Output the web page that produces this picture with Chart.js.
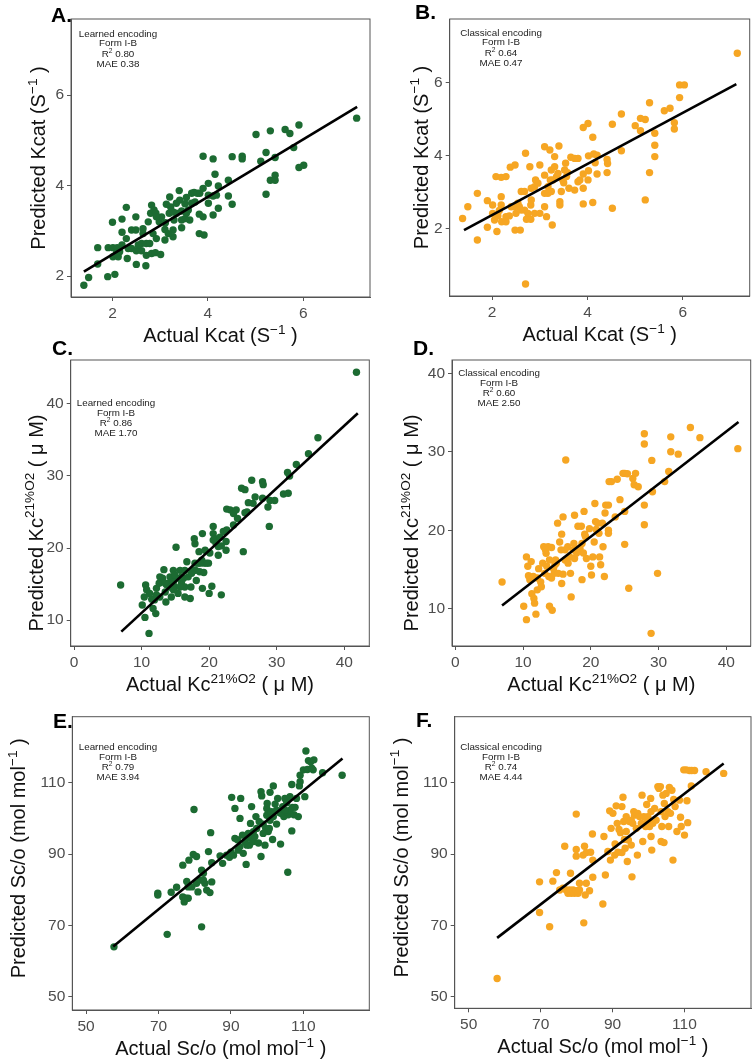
<!DOCTYPE html>
<html>
<head>
<meta charset="utf-8">
<script src="https://cdn.jsdelivr.net/npm/chart.js@4.4.0/dist/chart.umd.min.js"></script>
<style>
  body { margin: 0; background: #fff; width: 755px; height: 1063px; position: relative; overflow: hidden; }
  canvas { position: absolute; }
</style>
</head>
<body>
<canvas id="cA" width="378" height="350" style="left:0;top:0"></canvas>
<canvas id="cB" width="377" height="350" style="left:378px;top:0"></canvas>
<canvas id="cC" width="378" height="370" style="left:0;top:330px"></canvas>
<canvas id="cD" width="377" height="370" style="left:378px;top:330px"></canvas>
<canvas id="cE" width="378" height="383" style="left:0;top:680px"></canvas>
<canvas id="cF" width="377" height="383" style="left:378px;top:680px"></canvas>
<script>
const GREEN = '#1c6b32';
const ORANGE = '#f6a623';
const FONT = '"Liberation Sans", Arial, sans-serif';

// A: Kcat, learned encoding
const actualA = [1.40,1.50,1.69,1.69,1.90,2.05,2.00,1.91,2.01,2.10,2.01,2.12,2.20,2.20,2.20,2.29,2.29,2.31,2.40,2.49,2.49,2.40,2.50,2.50,2.61,2.61,2.64,2.70,2.71,2.71,2.75,2.80,2.82,2.87,2.91,2.82,2.90,3.01,2.98,3.10,3.10,3.11,3.19,3.20,3.22,3.27,3.29,3.34,3.40,3.41,3.45,3.45,3.52,3.55,3.59,3.62,3.66,3.71,3.78,3.83,3.82,3.82,3.92,3.90,3.90,4.01,4.01,4.11,4.11,4.11,4.15,4.18,4.22,4.22,4.43,4.43,4.51,4.51,4.72,4.72,3.90,5.01,5.11,5.22,5.22,5.31,5.31,5.41,5.41,5.41,5.62,5.72,5.80,5.91,5.91,6.01,7.12,3.13,3.27,3.34,3.66,3.73,3.03,2.64,2.85,2.92,3.27,3.17,2.15,2.08,2.33,3.52,2.92,4.01,3.55,3.45,2.54,2.78];
const predA = [1.80,1.97,2.63,2.27,1.99,2.04,3.19,2.63,2.63,2.63,2.43,2.43,2.69,3.26,2.97,3.52,2.83,2.39,3.02,3.02,3.31,2.61,2.56,2.26,2.56,2.72,2.94,2.23,2.46,2.72,3.20,3.39,3.57,3.46,3.39,2.50,2.52,2.48,3.20,2.80,3.03,3.18,3.39,3.75,3.53,3.02,3.24,3.39,3.89,3.68,3.44,3.07,3.60,3.74,3.46,3.24,3.83,3.85,3.83,3.83,3.37,2.94,2.91,3.31,3.94,4.05,3.61,3.35,4.59,3.77,4.25,3.79,3.50,3.99,4.12,3.77,4.64,3.59,4.65,4.59,4.65,5.13,4.54,4.73,3.81,4.12,5.21,4.23,4.12,4.62,5.24,5.15,4.84,5.34,4.40,4.45,5.49,3.59,3.42,3.61,3.61,3.64,3.31,3.05,2.94,2.83,2.87,2.94,2.54,2.50,2.61,3.27,3.31,3.79,3.39,3.24,2.69,2.72];
const fitXA = [1.40, 7.13];
const fitYA = [2.10, 5.74];

// B: Kcat, classical encoding
const actualB = [1.38,1.49,1.69,1.69,1.90,1.90,2.01,2.01,2.08,2.10,2.12,2.19,2.19,2.19,2.20,2.29,2.29,2.29,2.38,2.48,2.40,2.47,2.50,2.48,2.59,2.57,2.61,2.68,2.70,2.70,2.72,2.81,2.81,2.79,2.82,2.89,2.91,2.89,3.00,3.00,3.10,3.10,3.10,3.10,3.14,3.21,3.22,3.24,3.24,3.26,3.31,3.31,3.35,3.38,3.40,3.42,3.42,3.45,3.50,3.54,3.58,3.61,3.65,3.73,3.80,3.80,3.84,3.91,3.91,3.91,3.91,4.01,4.02,4.02,4.11,4.11,4.13,4.16,4.20,4.20,4.41,4.41,4.42,4.52,4.52,4.71,4.71,5.00,5.11,5.11,5.21,5.21,5.30,5.30,5.41,5.41,5.41,5.61,5.73,5.82,5.82,5.93,5.93,6.03,7.14,2.36,2.68,2.61,2.54,2.82,2.96,3.17,3.27,3.48,3.56,3.73,4.01,2.15,2.05,2.75,3.52,3.17];
const predB = [2.27,2.59,2.96,1.68,2.76,2.03,2.64,2.41,3.42,1.91,2.34,3.40,2.87,2.64,2.18,3.42,2.32,2.18,3.68,3.74,2.59,2.59,2.41,1.95,1.95,2.59,3.01,3.01,4.06,0.47,2.25,2.25,2.64,3.69,3.10,3.14,3.33,2.41,3.74,2.41,4.24,3.46,2.96,2.59,2.32,4.15,3.33,3.60,3.01,2.09,3.97,3.69,3.42,3.51,4.26,2.73,2.64,3.01,3.25,3.79,3.53,3.10,3.95,3.92,3.92,3.28,3.33,3.49,3.10,2.67,4.77,4.88,3.99,3.58,4.50,2.71,4.04,3.80,3.49,4.01,3.89,3.53,3.78,4.86,2.55,4.13,5.14,4.82,5.02,4.68,4.99,2.78,5.45,3.53,4.61,4.28,3.97,5.23,5.30,4.90,4.73,5.59,5.94,5.94,6.81,2.34,2.50,2.50,2.69,2.78,3.24,3.14,3.33,3.33,3.42,3.05,3.33,2.49,2.23,2.41,3.60,2.96];
const fitXB = [1.41, 7.12];
const fitYB = [1.95, 5.96];

// C: Kc, learned encoding
const actualC = [6.9,11.1,10.5,10.6,10.4,10.1,10.75,11.5,11.7,12.1,12.2,12.6,12.7,13.1,13.3,13.5,13.6,14.0,14.2,14.4,14.7,14.9,15.1,15.2,15.4,15.7,15.9,16.2,16.4,16.4,16.7,16.9,17.2,17.3,17.6,17.8,17.9,18.0,18.1,18.4,18.5,18.6,18.9,19.0,19.0,19.2,19.6,19.9,20.0,20.4,20.6,20.6,20.9,21.0,21.35,21.35,21.6,21.8,22.1,22.5,22.5,22.6,22.6,23.1,23.6,24.0,24.2,24.8,25.3,25.05,25.3,25.6,26.3,26.5,26.8,27.9,28.0,27.9,28.7,28.9,29.0,29.7,31.0,31.7,31.6,31.9,32.9,34.7,36.1,41.8,11.2,11.9,13.7,14.2,14.7,15.7,15.9,17.4,17.9,18.6,19.2,19.4,20.6,20.1,21.8,12.7,12.2,16.4,14.7,13.5,14.9,23.6,25.8];
const predC = [14.86,8.15,10.37,14.86,13.2,12.1,14.2,12.9,11.6,10.9,14.4,15.1,13.2,15.8,17.0,13.9,12.5,15.1,16.0,13.2,16.9,14.6,20.1,15.8,13.7,16.9,15.1,15.8,16.9,14.6,18.1,16.0,13.0,14.6,16.9,21.3,20.6,16.9,15.5,17.9,19.5,16.7,18.3,22.0,14.4,17.9,17.9,17.9,13.7,14.7,23.0,22.0,21.3,20.7,20.2,19.0,21.5,13.5,22.3,19.7,20.9,22.5,25.4,25.3,24.8,25.3,24.1,28.3,28.1,19.5,24.9,25.0,29.4,26.2,27.1,29.2,28.8,26.9,25.7,23.0,26.6,26.6,27.5,27.6,30.5,30.0,31.6,33.1,35.3,44.4,13.7,12.8,14.9,14.6,14.2,14.6,16.0,16.5,17.9,17.9,16.6,19.7,21.1,19.3,20.3,16.0,13.5,13.2,15.3,15.1,16.3,23.2,26.3];
const fitXC = [7.0, 42.0];
const fitYC = [8.4, 38.7];

// D: Kc, classical encoding
const actualD = [6.9,10.1,10.5,10.5,10.7,11.0,11.2,11.3,11.6,11.7,11.9,12.1,12.1,12.3,12.6,12.7,12.9,13.05,13.2,13.4,13.5,13.7,13.8,13.9,13.9,14.2,14.2,14.3,14.5,14.6,14.8,15.1,15.2,15.4,15.6,15.7,15.7,15.9,15.9,16.2,16.3,16.6,16.65,16.9,17.0,17.1,17.4,17.6,17.6,17.9,18.1,18.4,18.6,18.7,18.7,18.9,19.0,19.1,19.2,19.8,20.0,20.1,20.3,20.5,20.6,20.7,20.8,21.0,21.2,21.3,21.45,21.7,21.8,22.0,22.1,22.2,22.6,22.6,22.6,22.7,23.05,23.6,23.9,24.3,24.75,25.0,25.0,25.0,25.4,25.6,26.2,26.4,26.6,27.0,27.9,27.9,27.9,27.9,29.0,28.9,29.1,29.85,30.9,31.5,31.8,31.8,32.9,34.7,36.1,41.7,10.8,11.5,14.9,17.5,16.2,13.3,17.9,14.7,19.35];
const predD = [13.4,10.3,8.6,16.6,15.4,13.7,16.0,11.9,11.3,10.7,9.3,12.4,13.9,15.1,13.4,12.8,15.8,17.9,14.5,17.05,15.4,17.9,14.1,16.2,10.3,17.8,13.9,9.8,15.1,14.5,16.2,20.9,14.5,18.5,17.5,19.5,13.2,21.7,14.4,16.2,28.95,17.9,15.8,16.6,14.5,11.5,17.5,21.9,16.4,17.5,20.5,17.7,20.5,18.3,13.7,17.1,22.4,19.5,19.2,20.2,15.4,14.3,16.6,18.5,23.4,21.1,20.1,20.9,19.6,16.6,15.6,20.9,17.9,14.1,22.2,23.2,23.2,20.0,19.6,26.2,26.2,21.7,26.5,23.9,27.25,27.25,22.4,18.2,27.2,12.6,26.6,25.8,27.25,25.55,32.3,31.0,23.2,20.7,28.9,6.85,24.9,14.5,26.2,27.5,31.9,30.0,29.7,33.1,31.8,30.4,14.2,14.1,15.8,18.3,17.5,17.5,17.1,15.6,16.4];
const fitXD = [6.9, 41.8];
const fitYD = [10.4, 33.8];

// E: Sc/o, learned encoding
const actualE = [57.7,72.4,81.9,69.8,69.8,73.5,75.0,76.7,76.7,77.1,77.6,78.2,77.8,78.4,78.2,79.2,79.6,79.8,80.5,80.5,80.9,81.5,81.9,82.4,82.8,83.3,83.8,84.2,84.4,84.7,84.7,87.0,87.7,88.8,89.6,90.0,90.2,90.7,91.1,91.1,91.8,92.0,92.5,92.7,93.2,93.4,93.9,94.2,94.8,95.1,95.3,95.4,95.7,96.2,96.6,96.9,97.1,97.6,97.8,98.3,98.3,98.5,98.9,99.4,99.6,99.9,99.9,100.0,100.3,100.6,100.8,101.0,101.2,101.5,101.7,102.2,102.6,102.9,103.5,103.7,104.3,104.6,104.9,105.4,105.7,105.8,106.3,106.8,106.8,107.0,107.4,107.7,108.1,108.6,108.9,109.1,110.0,110.4,110.7,111.1,111.4,112.0,112.7,112.9,112.3,115.3,120.7,98.9,96.2,100.8,101.7,102.6,104.0,105.4,106.3,94.4,92.5,104.9,82.4,109.1];
const predE = [64.0,67.5,69.6,79.0,78.5,79.3,80.7,86.9,78.0,76.6,77.6,77.6,82.3,88.3,80.8,80.8,89.9,102.5,89.3,81.8,79.4,82.7,85.5,84.6,81.8,79.9,90.7,79.2,96.0,87.6,82.2,89.5,87.4,89.7,89.1,90.5,105.9,89.7,102.8,94.4,94.0,91.1,100.0,105.6,95.3,90.2,93.5,87.1,95.8,92.5,94.4,98.6,103.3,93.5,94.9,100.5,97.2,93.1,99.1,89.3,107.5,106.3,98.4,92.5,97.2,100.9,102.8,104.2,96.3,97.2,107.3,101.6,101.9,94.1,109.1,104.0,98.4,105.6,101.6,92.8,103.3,100.5,105.6,104.4,84.9,101.0,106.1,96.5,109.5,103.1,101.0,103.1,105.6,100.5,109.1,112.1,113.6,106.1,118.9,113.7,116.2,115.9,113.6,116.4,114.1,112.8,112.1,95.8,96.3,99.5,100.5,102.3,101.4,101.9,102.3,92.5,92.1,102.3,82.7,110.3];
const fitXE = [57.5, 120.8];
const fitYE = [64.1, 116.8];

// F: Sc/o, classical encoding
const actualF = [57.9,69.7,69.7,72.5,73.4,74.4,76.7,75.3,76.2,77.1,77.6,78.1,78.3,78.5,79.0,79.4,79.9,79.9,79.9,79.9,80.4,80.8,80.8,81.8,82.0,82.2,82.4,82.7,82.7,83.6,83.9,84.4,84.5,84.5,87.3,87.6,88.0,88.7,89.2,89.4,90.1,90.6,90.7,91.0,91.3,91.5,91.8,92.2,92.6,92.6,92.9,93.1,93.3,93.5,93.8,94.1,94.4,94.7,95.2,95.4,95.6,95.9,96.1,96.6,96.9,97.0,97.5,98.0,98.2,98.4,98.7,99.2,99.5,99.8,100.3,100.6,100.7,100.9,101.2,101.7,102.1,102.6,102.9,103.3,103.5,103.7,104.0,104.3,104.4,104.6,104.9,105.4,105.6,105.8,106.1,106.5,106.8,107.0,107.4,107.9,108.6,108.9,109.1,109.8,110.0,110.5,111.4,112.0,112.8,110.7,110.9,111.9,116.0,120.9,99.6,103.5,100.7,95.2,89.6,93.8];
const predF = [55.1,73.6,82.2,69.6,82.4,84.8,92.2,79.9,80.4,79.9,78.97,79.9,84.6,79.0,79.9,79.0,79.7,101.2,91.3,89.4,79.0,81.8,79.9,89.7,70.7,92.2,78.5,81.8,90.4,79.7,90.5,95.6,88.3,83.5,76.0,94.9,84.1,90.7,102.1,88.3,101.4,89.7,92.8,103.5,98.6,90.5,96.9,96.0,103.3,90.4,105.9,99.1,94.1,91.6,100.5,87.9,93.9,99.1,92.5,83.6,98.6,101.9,100.9,97.2,89.7,101.4,100.5,98.6,106.5,93.5,100.5,97.7,103.9,100.5,97.7,105.6,94.9,91.1,98.6,102.8,99.5,108.9,108.4,108.9,93.5,97.7,106.5,93.2,104.2,100.5,107.0,101.9,97.7,108.7,101.4,107.9,88.3,105.3,103.3,96.3,105.1,100.3,97.7,113.6,95.3,113.6,113.4,113.4,113.4,104.95,98.8,109.1,113.1,112.6,99.5,101.9,101.9,99.5,97.2,96.3];
const fitXF = [57.9, 120.9];
const fitYF = [66.5, 115.4];

// tick labels
const kcatTicks = [2, 4, 6];
const kcTicksX = [0, 10, 20, 30, 40];
const kcTicksY = [10, 20, 30, 40];
const scoTicks = [50, 70, 90, 110];

// axis titles and notes
const kcatX = [{t: 'Actual Kcat (S'}, {t: '\u22121', sup: true}, {t: ' )'}];
const kcatY = [{t: 'Predicted Kcat (S'}, {t: '\u22121', sup: true}, {t: ' )'}];
const kcX = [{t: 'Actual Kc'}, {t: '21%O2', sup: true}, {t: ' ( \u03bc M)'}];
const kcY = [{t: 'Predicted Kc'}, {t: '21%O2', sup: true}, {t: ' ( \u03bc M)'}];
const scoX = [{t: 'Actual Sc/o (mol mol'}, {t: '\u22121', sup: true}, {t: ' )'}];
const scoY = [{t: 'Predicted Sc/o (mol mol'}, {t: '\u22121', sup: true}, {t: ' )'}];

function note(enc, r2, mae) {
  return [
    [{t: enc + ' encoding'}],
    [{t: 'Form I-B'}],
    [{t: 'R'}, {t: '2', sup: true}, {t: ' ' + r2}],
    [{t: 'MAE ' + mae}]
  ];
}

function drawRich(ctx, parts, x, y, size) {
  let w = 0;
  parts.forEach(p => {
    ctx.font = (p.sup ? size * 0.68 : size) + 'px ' + FONT;
    w += ctx.measureText(p.t).width;
  });
  let cx = x - w / 2;
  parts.forEach(p => {
    ctx.font = (p.sup ? size * 0.68 : size) + 'px ' + FONT;
    ctx.fillText(p.t, cx, p.sup ? y - size * 0.42 : y);
    cx += ctx.measureText(p.t).width;
  });
}

const decor = {
  id: 'decor',
  afterDraw(chart, args, o) {
    const ctx = chart.ctx;
    const a = chart.chartArea;
    ctx.save();
    ctx.strokeStyle = '#555';
    ctx.lineWidth = 1;
    ctx.strokeRect(a.left, a.top, a.right - a.left, a.bottom - a.top);
    ctx.textAlign = 'left';
    ctx.textBaseline = 'alphabetic';
    ctx.fillStyle = '#000';
    ctx.font = 'bold 21px ' + FONT;
    ctx.fillText(o.letter, o.lx, o.ly);
    ctx.fillStyle = '#222';
    o.note.forEach((ln, i) => drawRich(ctx, ln, o.nx, o.ny + i * 9.7 + (i > 1 ? 1 : 0), 9.8));
    ctx.fillStyle = '#111';
    drawRich(ctx, o.xt, (a.left + a.right) / 2, a.bottom + 45, 20);
    ctx.translate(a.left - o.yo, (a.top + a.bottom) / 2 + (o.ys || 0));
    ctx.rotate(-Math.PI / 2);
    drawRich(ctx, o.yt, 0, 0, 20);
    ctx.restore();
  }
};

function axis(range, ticks, fit) {
  return {
    type: 'linear',
    min: range[0],
    max: range[1],
    afterBuildTicks: s => { s.ticks = ticks.map(v => ({value: v})); },
    afterFit: fit,
    grid: {display: true, drawOnChartArea: false, drawTicks: true, tickLength: 4, color: '#555', lineWidth: 1},
    border: {display: true, color: '#555'},
    ticks: {font: {family: FONT, size: 15.5}, color: '#4d4d4d', padding: 3, maxRotation: 0, autoSkip: false}
  };
}

function makePanel(id, cfg) {
  const canvas = document.getElementById(id);
  const b = cfg.box;
  const pts = cfg.xs.map((x, i) => ({x: x, y: cfg.ys[i]}));
  const fit = cfg.fx.map((x, i) => ({x: x, y: cfg.fy[i]}));
  new Chart(canvas, {
    type: 'scatter',
    data: {
      datasets: [
        {type: 'line', data: fit, borderColor: '#000', borderWidth: 2.6, pointRadius: 0, fill: false, order: 0},
        {data: pts, backgroundColor: cfg.color, borderWidth: 0, pointRadius: 3.7, order: 1}
      ]
    },
    options: {
      responsive: false,
      animation: false,
      events: [],
      layout: {padding: {top: b[1], right: canvas.width - b[2], left: 0, bottom: 0}},
      plugins: {legend: {display: false}, tooltip: {enabled: false}, decor: cfg.decor},
      scales: {
        x: axis(cfg.xr, cfg.xt, s => { s.height = canvas.height - b[3]; }),
        y: axis(cfg.yr, cfg.yt, s => { s.width = b[0]; })
      }
    },
    plugins: [decor]
  });
}

makePanel('cA', {
  xs: actualA, ys: predA, fx: fitXA, fy: fitYA, color: GREEN,
  box: [71, 19, 370, 297], xr: [1.13, 7.40], yr: [1.54, 7.68], xt: kcatTicks, yt: kcatTicks,
  decor: {letter: 'A.', lx: 51, ly: 22, nx: 118, ny: 36.5, note: note('Learned', '0.80', '0.38'), xt: kcatX, yt: kcatY, yo: 26}
});
makePanel('cB', {
  xs: actualB, ys: predB, fx: fitXB, fy: fitYB, color: ORANGE,
  box: [71.7, 19, 371.7, 296], xr: [1.11, 7.40], yr: [0.14, 7.75], xt: kcatTicks, yt: kcatTicks,
  decor: {letter: 'B.', lx: 37, ly: 19, nx: 123, ny: 35.5, note: note('Classical', '0.64', '0.47'), xt: kcatX, yt: kcatY, yo: 22}
});
makePanel('cC', {
  xs: actualC, ys: predC, fx: fitXC, fy: fitYC, color: GREEN,
  box: [70.7, 30, 369.3, 316], xr: [-0.49, 43.7], yr: [6.4, 46.1], xt: kcTicksX, yt: kcTicksY,
  decor: {letter: 'C.', lx: 52, ly: 25, nx: 116, ny: 76, note: note('Learned', '0.86', '1.70'), xt: kcX, yt: kcY, yo: 28, ys: 20}
});
makePanel('cD', {
  xs: actualD, ys: predD, fx: fitXD, fy: fitYD, color: ORANGE,
  box: [74, 30, 372.7, 316], xr: [-0.49, 43.6], yr: [5.24, 41.7], xt: kcTicksX, yt: kcTicksY,
  decor: {letter: 'D.', lx: 35, ly: 25, nx: 121, ny: 46, note: note('Classical', '0.60', '2.50'), xt: kcX, yt: kcY, yo: 34, ys: 20}
});
makePanel('cE', {
  xs: actualE, ys: predE, fx: fitXE, fy: fitYE, color: GREEN,
  box: [72.3, 36.7, 369.3, 330], xr: [46.2, 128.2], yr: [46.3, 128.5], xt: scoTicks, yt: scoTicks,
  decor: {letter: 'E.', lx: 53, ly: 48, nx: 118, ny: 70, note: note('Learned', '0.79', '3.94'), xt: scoX, yt: scoY, yo: 47, ys: -5}
});
makePanel('cF', {
  xs: actualF, ys: predF, fx: fitXF, fy: fitYF, color: ORANGE,
  box: [76.7, 36.7, 373.3, 328.3], xr: [46.1, 128.5], yr: [46.75, 128.5], xt: scoTicks, yt: scoTicks,
  decor: {letter: 'F.', lx: 38, ly: 47, nx: 123, ny: 70, note: note('Classical', '0.74', '4.44'), xt: scoX, yt: scoY, yo: 47, ys: -5}
});
</script>
</body>
</html>
